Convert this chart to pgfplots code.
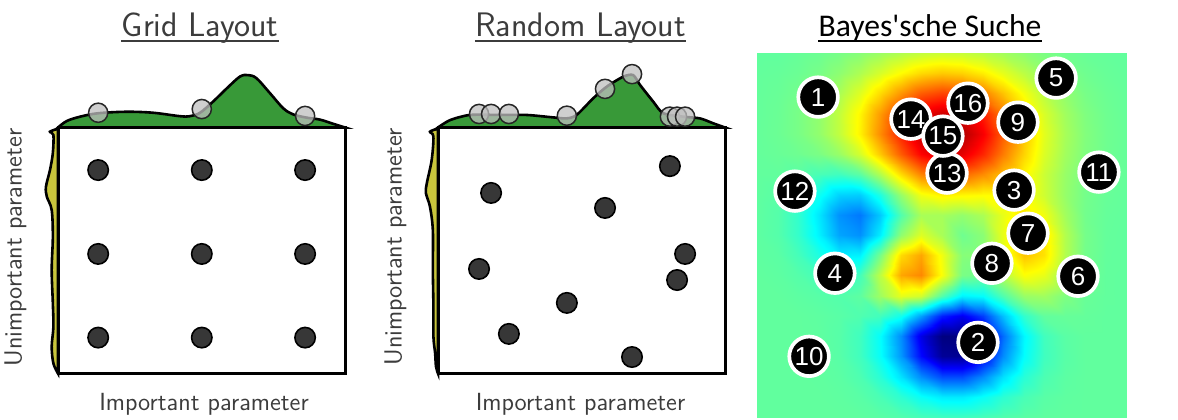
\documentclass[border=0pt]{standalone}
\usepackage{fontspec}
\usepackage{pgfplots}
\pgfplotsset{compat=1.18}
\newfontfamily\arialfont{Liberation Sans}
\newfontfamily\calibrifont{Carlito}
\definecolor{mygreen}{RGB}{56,153,56}
\definecolor{myyellow}{RGB}{200,197,60}
\definecolor{titlegray}{RGB}{60,60,60}
\definecolor{dotgray}{RGB}{55,55,55}
\begin{document}
\begin{tikzpicture}
\useasboundingbox (0,0) rectangle (589pt,209.5pt);
% ---------------- Panel 1: Grid Layout ----------------
\begin{axis}[at={(29pt,22.75pt)}, anchor=south west, width=143.5pt, height=123pt,
  scale only axis, xmin=0, xmax=1, ymin=0, ymax=1, xtick=\empty, ytick=\empty,
  axis on top, clip=false, axis line style={line width=1.5pt}]
\addplot[draw=black, line width=1.3pt, fill=mygreen, smooth, tension=0.55] coordinates {
 (0,1.0) (0.030,1.026) (0.077,1.044) (0.140,1.058) (0.239,1.064) (0.331,1.060)
 (0.425,1.046) (0.460,1.046) (0.495,1.060) (0.540,1.105) (0.588,1.159) (0.634,1.207)
 (0.663,1.213) (0.692,1.200) (0.739,1.139) (0.785,1.078) (0.820,1.053) (0.867,1.040)
 (0.913,1.032) (0.959,1.015) (1.0,1.0)} -- cycle;
\addplot[draw=black, line width=1.3pt, fill=myyellow, smooth, tension=0.55] coordinates {
 (0,0) (-0.016,0.041) (-0.022,0.109) (-0.016,0.190) (-0.018,0.287) (-0.022,0.421)
 (-0.018,0.556) (-0.022,0.665) (-0.039,0.719) (-0.042,0.759) (-0.028,0.827)
 (-0.018,0.896) (-0.016,0.970) (-0.028,0.983) (0,0.995)} -- cycle;
\addplot[only marks, mark=*, mark size=4.8pt,
  mark options={fill=black!25, fill opacity=0.75, draw=black!85, line width=0.75pt}]
  coordinates {(0.140,1.060) (0.501,1.075) (0.861,1.047)};
\addplot[only marks, mark=*, mark size=5.1pt,
  mark options={fill=dotgray, draw=black, line width=0.8pt}]
  coordinates {(0.140,0.827) (0.501,0.827) (0.861,0.827)
               (0.140,0.486) (0.501,0.486) (0.861,0.486)
               (0.140,0.146) (0.501,0.146) (0.861,0.146)};
\end{axis}
% ---------------- Panel 2: Random Layout ----------------
\begin{axis}[at={(219pt,22.75pt)}, anchor=south west, width=143.5pt, height=123pt,
  scale only axis, xmin=0, xmax=1, ymin=0, ymax=1, xtick=\empty, ytick=\empty,
  axis on top, clip=false, axis line style={line width=1.5pt}]
\addplot[draw=black, line width=1.3pt, fill=mygreen, smooth, tension=0.45] coordinates {
 (0,1.0) (0.042,1.030) (0.111,1.051) (0.216,1.051) (0.309,1.051) (0.402,1.041)
 (0.448,1.037) (0.483,1.051) (0.541,1.119) (0.588,1.166) (0.646,1.207) (0.680,1.213)
 (0.704,1.173) (0.750,1.105) (0.785,1.058) (0.855,1.044) (0.913,1.037) (0.959,1.017)
 (1.0,1.0)} -- cycle;
\addplot[draw=black, line width=1.3pt, fill=myyellow, smooth, tension=0.55] coordinates {
 (0,0) (-0.007,0.028) (-0.010,0.082) (-0.016,0.150) (-0.016,0.272) (-0.018,0.421)
 (-0.018,0.583) (-0.028,0.678) (-0.042,0.733) (-0.039,0.773) (-0.022,0.868)
 (-0.016,0.963) (-0.028,0.983) (0,0.995)} -- cycle;
\addplot[only marks, mark=*, mark size=4.8pt,
  mark options={fill=black!25, fill opacity=0.75, draw=black!85, line width=0.75pt}]
  coordinates {(0.143,1.055) (0.185,1.055) (0.247,1.055) (0.449,1.048) (0.582,1.157)
               (0.676,1.217) (0.808,1.044) (0.833,1.044) (0.861,1.044)};
\addplot[only marks, mark=*, mark size=5.1pt,
  mark options={fill=dotgray, draw=black, line width=0.8pt}]
  coordinates {(0.185,0.734) (0.582,0.673) (0.808,0.843) (0.861,0.486) (0.833,0.380)
               (0.143,0.425) (0.449,0.287) (0.247,0.161) (0.676,0.067)};
\end{axis}
% ---------------- Panel 3: Bayes'sche Suche ----------------
\begin{axis}[at={(378.5pt,1pt)}, anchor=south west, width=184.5pt, height=182pt,
  scale only axis, view={0}{90}, xmin=0, xmax=18, ymin=0, ymax=18,
  hide axis, colormap/jet, point meta min=0, point meta max=1, clip=false,
  enlargelimits=false]
\addplot3[surf, shader=interp, mesh/cols=19] coordinates {
(0,18,0.470) (1,18,0.470) (2,18,0.475) (3,18,0.481) (4,18,0.492) (5,18,0.507) (6,18,0.527) (7,18,0.548) (8,18,0.565) (9,18,0.573) (10,18,0.569) (11,18,0.555) (12,18,0.535) (13,18,0.514) (14,18,0.496) (15,18,0.484) (16,18,0.477) (17,18,0.473) (18,18,0.471)
(0,17,0.472) (1,17,0.474) (2,17,0.480) (3,17,0.492) (4,17,0.513) (5,17,0.545) (6,17,0.585) (7,17,0.627) (8,17,0.661) (9,17,0.677) (10,17,0.669) (11,17,0.641) (12,17,0.600) (13,17,0.558) (14,17,0.523) (15,17,0.499) (16,17,0.484) (17,17,0.476) (18,17,0.472)
(0,16,0.473) (1,16,0.477) (2,16,0.487) (3,16,0.507) (4,16,0.541) (5,16,0.593) (6,16,0.659) (7,16,0.728) (8,16,0.784) (9,16,0.809) (10,16,0.797) (11,16,0.750) (12,16,0.683) (13,16,0.615) (14,16,0.557) (15,16,0.517) (16,16,0.492) (17,16,0.480) (18,16,0.474)
(0,15,0.473) (1,15,0.479) (2,15,0.493) (3,15,0.518) (4,15,0.565) (5,15,0.633) (6,15,0.723) (7,15,0.816) (8,15,0.891) (9,15,0.925) (10,15,0.909) (11,15,0.846) (12,15,0.756) (13,15,0.664) (14,15,0.587) (15,15,0.533) (16,15,0.500) (17,15,0.483) (18,15,0.475)
(0,14,0.474) (1,14,0.480) (2,14,0.493) (3,14,0.518) (4,14,0.564) (5,14,0.637) (6,14,0.737) (7,14,0.843) (8,14,0.930) (9,14,0.969) (10,14,0.951) (11,14,0.882) (12,14,0.784) (13,14,0.683) (14,14,0.598) (15,14,0.539) (16,14,0.503) (17,14,0.484) (18,14,0.476)
(0,13,0.473) (1,13,0.477) (2,13,0.483) (3,13,0.495) (4,13,0.524) (5,13,0.583) (6,13,0.678) (7,13,0.786) (8,13,0.874) (9,13,0.914) (10,13,0.901) (11,13,0.839) (12,13,0.754) (13,13,0.667) (14,13,0.590) (15,13,0.534) (16,13,0.500) (17,13,0.483) (18,13,0.475)
(0,12,0.471) (1,12,0.471) (2,12,0.463) (3,12,0.447) (4,12,0.438) (5,12,0.466) (6,12,0.549) (7,12,0.661) (8,12,0.747) (9,12,0.784) (10,12,0.776) (11,12,0.739) (12,12,0.688) (13,12,0.633) (14,12,0.574) (15,12,0.524) (16,12,0.494) (17,12,0.479) (18,12,0.474)
(0,11,0.469) (1,11,0.463) (2,11,0.439) (3,11,0.388) (4,11,0.331) (5,11,0.326) (6,11,0.403) (7,11,0.522) (8,11,0.612) (9,11,0.637) (10,11,0.631) (11,11,0.626) (12,11,0.627) (13,11,0.619) (14,11,0.577) (15,11,0.522) (16,11,0.489) (17,11,0.476) (18,11,0.472)
(0,10,0.468) (1,10,0.458) (2,10,0.424) (3,10,0.352) (4,10,0.268) (5,10,0.243) (6,10,0.322) (7,10,0.455) (8,10,0.540) (9,10,0.538) (10,10,0.519) (11,10,0.543) (12,10,0.602) (13,10,0.646) (14,10,0.612) (15,10,0.534) (16,10,0.487) (17,10,0.474) (18,10,0.471)
(0,9,0.467) (1,9,0.458) (2,9,0.426) (3,9,0.363) (4,9,0.287) (5,9,0.267) (6,9,0.359) (7,9,0.515) (8,9,0.592) (9,9,0.540) (10,9,0.484) (11,9,0.511) (12,9,0.603) (13,9,0.685) (14,9,0.652) (15,9,0.550) (16,9,0.490) (17,9,0.473) (18,9,0.470)
(0,8,0.468) (1,8,0.464) (2,8,0.443) (3,8,0.402) (4,8,0.359) (5,8,0.362) (6,8,0.490) (7,8,0.660) (8,8,0.712) (9,8,0.610) (10,8,0.507) (11,8,0.510) (12,8,0.597) (13,8,0.683) (14,8,0.653) (15,8,0.550) (16,8,0.488) (17,8,0.472) (18,8,0.470)
(0,7,0.470) (1,7,0.467) (2,7,0.458) (3,7,0.441) (4,7,0.425) (5,7,0.442) (6,7,0.560) (7,7,0.712) (8,7,0.742) (9,7,0.620) (10,7,0.495) (11,7,0.484) (12,7,0.551) (13,7,0.622) (14,7,0.603) (15,7,0.529) (16,7,0.483) (17,7,0.471) (18,7,0.470)
(0,6,0.470) (1,6,0.470) (2,6,0.466) (3,6,0.461) (4,6,0.457) (5,6,0.467) (6,6,0.530) (7,6,0.600) (8,6,0.580) (9,6,0.456) (10,6,0.363) (11,6,0.377) (12,6,0.453) (13,6,0.524) (14,6,0.532) (15,6,0.499) (16,6,0.477) (17,6,0.471) (18,6,0.470)
(0,5,0.470) (1,5,0.470) (2,5,0.470) (3,5,0.467) (4,5,0.462) (5,5,0.453) (6,5,0.439) (7,5,0.391) (8,5,0.281) (9,5,0.153) (10,5,0.109) (11,5,0.184) (12,5,0.313) (13,5,0.423) (14,5,0.470) (15,5,0.475) (16,5,0.473) (17,5,0.470) (18,5,0.470)
(0,4,0.470) (1,4,0.470) (2,4,0.470) (3,4,0.468) (4,4,0.460) (5,4,0.437) (6,4,0.378) (7,4,0.263) (8,4,0.099) (9,4,0.000) (10,4,0.000) (11,4,0.060) (12,4,0.231) (13,4,0.368) (14,4,0.439) (15,4,0.463) (16,4,0.470) (17,4,0.470) (18,4,0.470)
(0,3,0.470) (1,3,0.470) (2,3,0.470) (3,3,0.468) (4,3,0.461) (5,3,0.438) (6,3,0.381) (7,3,0.274) (8,3,0.131) (9,3,0.023) (10,3,0.018) (11,3,0.120) (12,3,0.262) (13,3,0.376) (14,3,0.437) (15,3,0.461) (16,3,0.470) (17,3,0.470) (18,3,0.470)
(0,2,0.470) (1,2,0.470) (2,2,0.470) (3,2,0.469) (4,2,0.465) (5,2,0.451) (6,2,0.415) (7,2,0.348) (8,2,0.263) (9,2,0.200) (10,2,0.199) (11,2,0.261) (12,2,0.346) (13,2,0.414) (14,2,0.450) (15,2,0.465) (16,2,0.470) (17,2,0.470) (18,2,0.470)
(0,1,0.470) (1,1,0.470) (2,1,0.470) (3,1,0.470) (4,1,0.468) (5,1,0.462) (6,1,0.447) (7,1,0.419) (8,1,0.383) (9,1,0.357) (10,1,0.356) (11,1,0.382) (12,1,0.418) (13,1,0.446) (14,1,0.462) (15,1,0.468) (16,1,0.470) (17,1,0.470) (18,1,0.470)
(0,0,0.470) (1,0,0.470) (2,0,0.470) (3,0,0.470) (4,0,0.470) (5,0,0.468) (6,0,0.463) (7,0,0.455) (8,0,0.444) (9,0,0.437) (10,0,0.436) (11,0,0.444) (12,0,0.455) (13,0,0.463) (14,0,0.468) (15,0,0.470) (16,0,0.470) (17,0,0.470) (18,0,0.470)
};
\addplot3[only marks, mark=*, mark size=9.9pt,
  mark options={fill=black, draw=white, line width=1.85pt},
  point meta=explicit symbolic, nodes near coords,
  every node near coord/.append style={anchor=center, text=white, inner sep=0pt,
    font=\arialfont\fontsize{13}{14}\selectfont}]
  coordinates {
  (2.98,15.82,1) [1] (10.78,3.69,1) [2] (12.54,11.22,1) [3] (3.80,7.11,1) [4]
  (14.59,16.76,1) [5] (15.66,6.96,1) [6] (13.22,9.09,1) [7] (11.46,7.60,1) [8]
  (12.73,14.58,1) [9] (2.54,3.00,1) [10] (16.68,12.11,1) [11] (1.85,11.17,1) [12]
  (7.51,14.73,1) [14] (9.27,12.06,1) [13] (9.07,13.89,1) [15] (10.29,15.52,1) [16]};
\end{axis}
% ---------------- Titles and labels ----------------
\node[anchor=base, inner sep=0pt, text=titlegray, font=\sffamily\fontsize{17}{20}\selectfont] (t1) at (100pt,191.2pt) {Grid Layout};
\draw[titlegray, line width=0.75pt] ([yshift=-2.3pt]t1.base west) -- ([yshift=-2.3pt]t1.base east);
\node[anchor=base, inner sep=0pt, text=titlegray, font=\sffamily\fontsize{17}{20}\selectfont] (t2) at (290.25pt,191.2pt) {Random Layout};
\draw[titlegray, line width=0.75pt] ([yshift=-2.3pt]t2.base west) -- ([yshift=-2.3pt]t2.base east);
\node[anchor=base, inner sep=0pt, text=black, font=\calibrifont\fontsize{15.8}{18}\selectfont] (t3) at (465pt,191.5pt) {Bayes\textquotesingle sche Suche};
\draw[black, line width=0.75pt] ([yshift=-2.6pt]t3.base west) -- ([yshift=-2.6pt]t3.base east);
\node[anchor=base, inner sep=0pt, text=titlegray, font=\sffamily\fontsize{12.4}{14}\selectfont] at (102pt,4.15pt) {Important parameter};
\node[anchor=base, inner sep=0pt, text=titlegray, font=\sffamily\fontsize{12.4}{14}\selectfont] at (290.25pt,4.15pt) {Important parameter};
\node[anchor=base, rotate=90, inner sep=0pt, text=titlegray, font=\sffamily\fontsize{12.4}{14}\selectfont] at (10.75pt,85.75pt) {Unimportant parameter};
\node[anchor=base, rotate=90, inner sep=0pt, text=titlegray, font=\sffamily\fontsize{12.4}{14}\selectfont] at (200.75pt,86.2pt) {Unimportant parameter};
\end{tikzpicture}
\end{document}
